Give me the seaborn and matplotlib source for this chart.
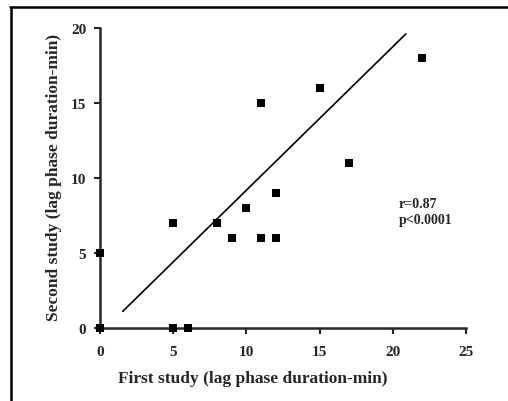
import matplotlib
matplotlib.use("Agg")
import matplotlib.pyplot as plt
from matplotlib.lines import Line2D
import seaborn as sns
import pandas as pd

# lag phase duration (min)
first_study = [0, 0, 5, 6, 5, 8, 9, 10, 11, 11, 12, 12, 15, 17, 22]
second_study = [5, 0, 0, 0, 7, 7, 6, 8, 15, 6, 9, 6, 16, 11, 18]

# regression line end points
fit_x = [1.55, 20.9]
fit_y = [1.1, 19.6]

x_ticks = [0, 5, 10, 15, 20, 25]
y_ticks = [0, 5, 10, 15, 20]

sns.set_style("ticks")
plt.rcParams['font.family'] = ['Liberation Serif', 'DejaVu Serif']

df = pd.DataFrame({"first": first_study, "second": second_study})

fig = plt.figure(figsize=(5.08, 4.02), dpi=100)
ax = fig.add_axes([0.197, 0.182, 0.72, 0.746])

sns.scatterplot(data=df, x="first", y="second", marker="s", s=40,
                color="black", edgecolor="black", linewidth=0,
                clip_on=False, zorder=3, ax=ax)
ax.plot(fit_x, fit_y, color="black", lw=1.2)

ax.set_xlim(0, 25)
ax.set_ylim(0, 20)
ax.set_xticks(x_ticks)
ax.set_yticks(y_ticks)
ax.tick_params(direction="out", length=4, width=1.5, labelsize=11)
ax.tick_params(axis="x", pad=8)
ax.tick_params(axis="y", pad=6)
for lab in ax.get_xticklabels() + ax.get_yticklabels():
    lab.set_fontweight("bold")

for side in ["top", "right"]:
    ax.spines[side].set_visible(False)
for side in ["left", "bottom"]:
    ax.spines[side].set_linewidth(1.8)

ax.set_xlabel("First study (lag phase duration-min)", fontsize=12.5,
              fontweight="bold")
ax.set_ylabel("Second study (lag phase duration-min)", fontsize=12.5,
              fontweight="bold")
ax.xaxis.set_label_coords(0.418, -0.14)
ax.yaxis.set_label_coords(-0.103, 0.505)

ax.text(20.4, 8.3, "r=0.87", fontsize=10, fontweight="bold", va="center")
ax.text(20.4, 7.2, "p<0.0001", fontsize=10, fontweight="bold", va="center")

# frame of the scanned panel (left and top edges only)
fig.add_artist(Line2D([0.022, 0.022], [0.0, 0.98], color="black", lw=1.8,
                      transform=fig.transFigure))
fig.add_artist(Line2D([0.02, 1.0], [0.98, 0.98], color="black", lw=1.8,
                      transform=fig.transFigure))

fig.savefig("out.png", dpi=100)
